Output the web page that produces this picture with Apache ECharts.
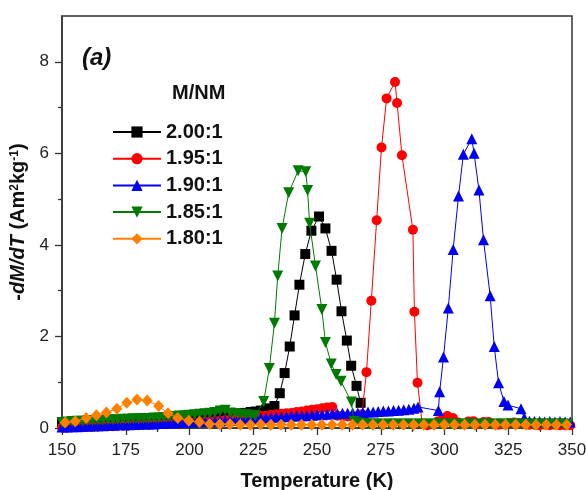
<!DOCTYPE html>
<html>
<head>
<meta charset="utf-8">
<script src="https://cdn.jsdelivr.net/npm/echarts@6/dist/echarts.min.js"></script>
<style>html,body{margin:0;padding:0;background:#fff;}#c{width:586px;height:490px;}</style>
</head>
<body>
<div id="c"></div>
<script>
// ---- data ----
const seriesNames = ['2.00:1', '1.95:1', '1.90:1', '1.85:1', '1.80:1'];
const xTicks = [150, 175, 200, 225, 250, 275, 300, 325, 350];
const yTicks = [0, 2, 4, 6, 8];

const tBlack = [150,152,154,156,158,160,162,164,166,168,170,172,174,176,178,180,182,184,186,188,190,192,194,196,198,200,202,204,206,208,210,212,214,216,218,220,222,224,226,228,230,231.4,233.3,235.4,237.3,239.3,241.2,243.1,245.4,247.8,250.8,253.3,255.7,257.7,259.6,261.7,263.4,265.5,267.1];
const vBlack = [0.10,0.10,0.11,0.11,0.12,0.12,0.13,0.13,0.14,0.14,0.15,0.15,0.16,0.16,0.17,0.17,0.18,0.18,0.19,0.19,0.20,0.20,0.21,0.21,0.22,0.22,0.23,0.24,0.25,0.26,0.27,0.28,0.29,0.30,0.31,0.32,0.33,0.35,0.36,0.38,0.40,0.43,0.48,0.76,1.20,1.78,2.46,3.13,3.80,4.31,4.62,4.36,3.87,3.24,2.55,1.91,1.36,0.92,0.55];

const tRed = [150,152,154,156,158,160,162,164,166,168,170,172,174,176,178,180,182,184,186,188,190,192,194,196,198,200,202,204,206,208,210,212,214,216,218,220,222,224,226,228,230,232,234,236,238,240,242,244,246,248,250,252,254,256,258,260,262,264,266,267.6,269.4,271.3,273.4,275.3,277.3,280.6,281.4,283.3,287.6,288.2,289.4,291.3,293.3,295.3,297.3,299.3,301.1,303.3,305.3,307.3,309.3,311.3,313.3,315.3,317.3,319.3,321.3,323.3,325.3,327.3,329.3,331.3,333.3,335.3,337.3,339.3,341.3,343.3,345.3,347.3,349.3];
const vRed = [0.01,0.01,0.02,0.02,0.02,0.03,0.03,0.03,0.04,0.04,0.04,0.05,0.05,0.05,0.06,0.06,0.07,0.07,0.08,0.08,0.09,0.09,0.10,0.10,0.11,0.11,0.12,0.13,0.13,0.14,0.15,0.16,0.17,0.18,0.19,0.20,0.21,0.22,0.24,0.26,0.27,0.29,0.30,0.31,0.32,0.33,0.35,0.36,0.38,0.40,0.41,0.43,0.45,0.46,0.27,0.26,0.25,0.25,0.26,0.30,1.22,2.78,4.54,6.13,7.20,7.56,7.10,5.96,4.33,2.54,0.99,0.08,0.06,0.08,0.14,0.20,0.26,0.22,0.12,0.08,0.14,0.15,0.09,0.13,0.13,0.08,0.07,0.09,0.11,0.12,0.11,0.08,0.07,0.07,0.06,0.07,0.06,0.07,0.06,0.06,0.06];

const tBlue = [150,152,154,156,158,160,162,164,166,168,170,172,174,176,178,180,182,184,186,188,190,192,194,196,198,200,202,204,206,208,210,212,214,216,218,220,222,224,226,228,230,232,234,236,238,240,242,244,246,248,250,252,254,256,258,260,262,264,266,268,270,272,274,276,278,280,282,284,286,288,289.6,297.6,298.1,299.6,301.5,303.4,305.5,307.4,310.7,311.6,313.5,315.3,317.9,319.5,321.2,323.3,324.9,330.0,331.3,333.3,335.3,337.3,339.3,341.3,343.3,345.3,347.3,349.3];
const vBlue = [0.02,0.02,0.03,0.03,0.04,0.04,0.05,0.05,0.05,0.06,0.06,0.07,0.07,0.07,0.08,0.08,0.09,0.09,0.09,0.10,0.10,0.11,0.11,0.12,0.12,0.13,0.13,0.14,0.14,0.15,0.15,0.16,0.16,0.17,0.17,0.18,0.19,0.20,0.21,0.22,0.22,0.23,0.24,0.24,0.25,0.26,0.26,0.27,0.27,0.28,0.29,0.29,0.30,0.31,0.31,0.32,0.32,0.33,0.33,0.34,0.35,0.35,0.36,0.37,0.37,0.38,0.39,0.40,0.41,0.43,0.46,0.38,0.79,1.55,2.62,3.90,5.07,5.98,6.32,6.00,5.20,4.11,2.89,1.78,0.99,0.58,0.50,0.42,0.22,0.15,0.14,0.14,0.13,0.14,0.13,0.14,0.13,0.13];

const tGreen = [150,152,154,156,158,160,162,164,166,168,170,172,174,176,178,180,182,184,186,188,190,192,194,196,198,200,202,204,206,208,210,212,214,216,218,220,222,224,225.8,229.1,231.3,233.3,234.6,236.3,238.9,242.6,245.6,246.3,247.1,249.4,251.9,253.3,255.6,257.5,259.4,263.5,264.5,266.5,268.4,270.4,272.4,274.4,276.4,278.4,280.4,282.4,284.4,286.4,288.4,290.4,292.4,294.4,296.4,298.4,300.4,302.4,304.4,306.4,308.4,310.4,312.4,314.4,316.4,318.4,320.4,322.4,324.4,326.4,328.4,330.4,332.4,334.4,336.4,338.4,340.4,342.4,344.4,346.4,348.4];
const vGreen = [0.12,0.13,0.14,0.15,0.15,0.16,0.16,0.17,0.17,0.18,0.18,0.18,0.19,0.19,0.20,0.20,0.21,0.21,0.22,0.22,0.23,0.24,0.25,0.26,0.27,0.28,0.29,0.30,0.31,0.32,0.34,0.37,0.39,0.33,0.31,0.30,0.29,0.28,0.27,0.58,1.30,2.29,3.32,4.36,5.14,5.62,5.60,5.19,4.47,3.54,2.59,1.87,1.40,1.17,1.02,0.57,0.14,0.11,0.10,0.09,0.09,0.09,0.08,0.09,0.09,0.08,0.09,0.09,0.08,0.09,0.09,0.08,0.09,0.09,0.08,0.09,0.09,0.08,0.09,0.09,0.08,0.09,0.09,0.08,0.09,0.09,0.08,0.09,0.09,0.08,0.09,0.09,0.08,0.09,0.09,0.08,0.09,0.09,0.08];

const tOrange = [151.2,155.2,159.5,163.5,167.4,171.5,175.4,179.4,183.4,187.9,191.6,195.4,199.7,203.9,207.9,211.9,215.9,219.9,223.9,227.9,231.9,235.9,239.9,243.9,247.9,251.9,255.9,259.9,263.9,267.9,271.9,275.9,279.9,283.9,287.9,291.9,295.9,299.9,303.9,307.9,311.9,315.9,319.9,323.9,327.9,331.9,335.9,339.9,343.9,347.9];
const vOrange = [0.12,0.15,0.22,0.28,0.34,0.42,0.55,0.62,0.60,0.48,0.32,0.22,0.16,0.13,0.09,0.08,0.08,0.07,0.07,0.08,0.07,0.07,0.07,0.07,0.07,0.07,0.07,0.07,0.07,0.07,0.07,0.07,0.07,0.07,0.07,0.07,0.07,0.07,0.07,0.07,0.07,0.07,0.07,0.07,0.07,0.07,0.07,0.07,0.07,0.07];

// ---- chart ----
const FONT = 'Liberation Sans, Arial, sans-serif';
function zip(t, v) { return t.map((x, i) => [x, v[i]]); }
const chart = echarts.init(document.getElementById('c'), null, {renderer: 'canvas'});
const invTri = 'path://M0,0 L10,0 L5,8.66 Z';
const specs = [
  {t: tBlack, v: vBlack, color: '#000000', symbol: 'rect', size: 10},
  {t: tRed, v: vRed, color: '#ff0000', symbol: 'circle', size: 10},
  {t: tBlue, v: vBlue, color: '#0000ee', symbol: 'triangle', size: 11},
  {t: tGreen, v: vGreen, color: '#007a00', symbol: invTri, size: 11},
  {t: tOrange, v: vOrange, color: '#ff8000', symbol: 'diamond', size: [11, 12]}
];
const series = specs.map((s, i) => ({
  name: seriesNames[i], type: 'line', xAxisIndex: 0, yAxisIndex: 0,
  data: zip(s.t, s.v), symbol: s.symbol, symbolSize: s.size, showAllSymbol: true,
  itemStyle: {color: s.color}, lineStyle: {color: s.color, width: 1}, z: 2 + i
}));
const axisCol = '#333';
chart.setOption({
  animation: false,
  textStyle: {fontFamily: FONT},
  grid: {left: 62, right: 14, top: 16, bottom: 62, show: true, borderColor: axisCol, borderWidth: 1.5,
         backgroundColor: 'transparent', containLabel: false, outerBoundsMode: 'none'},
  legend: {
    orient: 'vertical', left: 107, top: 117, itemWidth: 48, itemHeight: 14, itemGap: 6.7,
    textStyle: {fontSize: 20, fontWeight: 'bold', color: '#111', fontFamily: FONT, lineHeight: 20},
    data: seriesNames
  },
  graphic: [
    {type: 'text', left: 82, top: 46, style: {text: '(a)', font: 'italic bold 24px ' + FONT, fill: '#111'}},
    {type: 'text', left: 172, top: 83, style: {text: 'M/NM', font: 'bold 20px ' + FONT, fill: '#111'}}
  ],
  xAxis: {
    type: 'value', min: xTicks[0], max: xTicks[xTicks.length - 1], interval: 25,
    axisLine: {onZero: false, lineStyle: {color: axisCol, width: 1.5}},
    axisTick: {length: 7, lineStyle: {color: axisCol, width: 1.3}},
    minorTick: {show: true, splitNumber: 2, length: 4, lineStyle: {color: axisCol, width: 1.3}},
    splitLine: {show: false},
    axisLabel: {fontSize: 17, color: '#222', margin: 14, fontFamily: FONT},
    name: 'Temperature (K)', nameLocation: 'middle', nameGap: 43,
    nameTextStyle: {fontSize: 20, fontWeight: 'bold', color: '#111', fontFamily: FONT}
  },
  yAxis: [{
    type: 'value', min: 0, max: 9, interval: 1,
    axisLine: {onZero: false, lineStyle: {color: axisCol, width: 1.5}},
    axisTick: {length: 7, customValues: yTicks, lineStyle: {color: axisCol, width: 1.3}},
    splitLine: {show: false},
    axisLabel: {customValues: yTicks, fontSize: 17, color: '#222', margin: 13, fontFamily: FONT},
    name: '{n|-}{i|dM/dT}{n| (Am}{s|2}{n|kg}{s|-1}{n|)}', nameLocation: 'middle', nameGap: 28,
    nameTextStyle: {
      fontSize: 20, fontWeight: 'bold', color: '#111', fontFamily: FONT,
      rich: {
        n: {fontSize: 20, fontWeight: 'bold', color: '#111', fontFamily: FONT},
        i: {fontSize: 20, fontWeight: 'bold', fontStyle: 'italic', color: '#111', fontFamily: FONT},
        s: {fontSize: 12, fontWeight: 'bold', color: '#111', fontFamily: FONT, verticalAlign: 'top'}
      }
    }
  }, {
    type: 'value', min: 0, max: 9, interval: 1, position: 'left',
    axisLine: {show: false},
    axisTick: {length: 4, customValues: [1, 3, 5, 7], lineStyle: {color: axisCol, width: 1.3}},
    axisLabel: {show: false}, splitLine: {show: false}
  }],
  series: series
});
</script>
</body>
</html>
